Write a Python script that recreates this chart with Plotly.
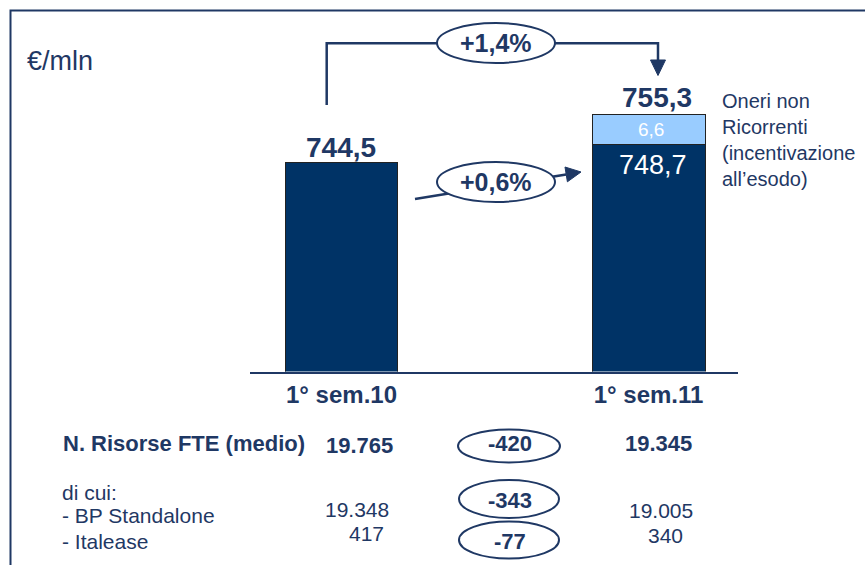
import plotly.graph_objects as go

# ---------------- data ----------------
periods = ["1° sem.10", "1° sem.11"]
recurring_costs = [744.5, 748.7]          # dark navy part
one_off_costs = [0.0, 6.6]                # light blue part (oneri non ricorrenti)
total_costs = [744.5, 755.3]
pct_change_total = "+1,4%"
pct_change_recurring = "+0,6%"
unit_label = "€/mln"
one_off_label = "Oneri non<br>Ricorrenti<br>(incentivazione<br>all’esodo)"

fte_row_labels = ["N. Risorse FTE (medio)", "di cui:", "- BP Standalone", "- Italease"]
fte_total = [19765, 19345]
fte_bp_standalone = [19348, 19005]
fte_italease = [417, 340]

# ---------------- helpers ----------------
W, H = 865, 565
NAVY = "#1F3864"
BAR = "#003366"
LIGHT = "#99CCFF"
FONT = "Tahoma, 'Liberation Sans', Arial, sans-serif"


def px(x):
    return x / W


def py(y):
    return 1 - y / H


def it_dec(v):
    return f"{v:.1f}".replace(".", ",")


def it_int(v):
    return f"{v:,}".replace(",", ".")


def it_delta(v):
    return ("+" if v > 0 else "") + it_int(v)


# axis geometry (pixels)
AXIS_Y = 371.5
PLOT_TOP = 60
PX_PER_UNIT = 4.46
Y_MIN = 697.7
Y_MAX = Y_MIN + (AXIS_Y - PLOT_TOP) / PX_PER_UNIT
X_LEFT, X_RIGHT = 250, 738
X_RANGE = [-0.298, 1.2915]

fig = go.Figure()
fig.add_trace(go.Bar(
    x=[0, 1], y=recurring_costs, width=0.368,
    marker=dict(color=BAR, line=dict(color="#222222", width=1)),
    hoverinfo="skip", showlegend=False,
))
fig.add_trace(go.Bar(
    x=[0, 1], y=one_off_costs, width=0.368,
    marker=dict(color=LIGHT, line=dict(color="#222222", width=1)),
    hoverinfo="skip", showlegend=False,
))

annotations = []


def txt(text, x, y, size, bold=False, color=NAVY, xanchor="center", **kw):
    t = f"<b>{text}</b>" if bold else text
    d = dict(text=t, x=x, y=y, xref=kw.pop("xref", "paper"), yref=kw.pop("yref", "paper"),
             xanchor=xanchor, yanchor=kw.pop("yanchor", "middle"), showarrow=False,
             font=dict(family=FONT, size=size, color=color), align=kw.pop("align", "left"))
    d.update(kw)
    annotations.append(d)


# unit label
txt(unit_label, px(25), py(61.5), 27, xanchor="left")

# value labels tied to data
txt(it_dec(total_costs[0]), 0, total_costs[0], 28, bold=True, xref="x", yref="y", yshift=15)
txt(it_dec(total_costs[1]), 1, total_costs[1], 28, bold=True, xref="x", yref="y", yshift=17.5, xshift=8)
txt(it_dec(recurring_costs[1]), 1, recurring_costs[1], 27, color="white", xref="x", yref="y",
    yshift=-20.5, xshift=4)
txt(it_dec(one_off_costs[1]), 1, recurring_costs[1] + one_off_costs[1] / 2, 19, color="white",
    xref="x", yref="y", xshift=2)

# legend-like note
txt(one_off_label, px(720), py(88), 20, xanchor="left", yanchor="top")

# percentage bubbles
txt(pct_change_total, px(496), py(43), 25, bold=True)
txt(pct_change_recurring, px(496), py(182), 25, bold=True)

# FTE table
txt(fte_row_labels[0], px(61), py(443.5), 22, bold=True, xanchor="left")
txt(fte_row_labels[1], px(60), py(492), 21, xanchor="left")
txt(fte_row_labels[2], px(60), py(515.5), 21, xanchor="left")
txt(fte_row_labels[3], px(60), py(541), 21, xanchor="left")

txt(it_int(fte_total[0]), px(359), py(445), 22, bold=True)
txt(it_int(fte_total[1]), px(658), py(443.5), 22, bold=True)
txt(it_int(fte_bp_standalone[0]), px(357), py(509), 21)
txt(it_int(fte_bp_standalone[1]), px(661), py(510.5), 21)
txt(it_int(fte_italease[0]), px(366.5), py(533), 21)
txt(it_int(fte_italease[1]), px(665.5), py(535.5), 21)

txt(it_delta(fte_total[1] - fte_total[0]), px(510), py(443.5), 22, bold=True)
txt(it_delta(fte_bp_standalone[1] - fte_bp_standalone[0]), px(510), py(500.5), 22, bold=True)
txt(it_delta(fte_italease[1] - fte_italease[0]), px(510), py(541), 22, bold=True)

# ---------------- shapes ----------------
shapes = []


def path(points, close=False, **kw):
    s = "M " + " L ".join(f"{px(x):.5f},{py(y):.5f}" for x, y in points)
    if close:
        s += " Z"
    d = dict(type="path", path=s, xref="paper", yref="paper")
    d.update(kw)
    shapes.append(d)


def ellipse(cx, cy, w, h):
    shapes.append(dict(type="circle", xref="paper", yref="paper",
                       x0=px(cx - w / 2), x1=px(cx + w / 2), y0=py(cy + h / 2), y1=py(cy - h / 2),
                       fillcolor="white", line=dict(color=NAVY, width=2)))


# frame
path([(10.5, 600), (10.5, 10.5), (900, 10.5)], line=dict(color=NAVY, width=2))

# bracket connector +1,4%
path([(326.7, 105), (326.7, 43.3), (658, 43.3), (658, 62)], line=dict(color=NAVY, width=2.5))
path([(650.5, 60), (665.5, 60), (658, 75.5)], close=True, fillcolor=NAVY, line=dict(color=NAVY, width=1))
ellipse(496, 43, 118, 40)

# arrow +0,6%
x0, y0, x1, y1 = 415, 199, 581, 172
dx, dy = x1 - x0, y1 - y0
L = (dx * dx + dy * dy) ** 0.5
ux, uy = dx / L, dy / L
hl, hw = 15, 7.5
bx, by = x1 - hl * ux, y1 - hl * uy
path([(x0, y0), (bx, by)], line=dict(color=NAVY, width=2.5))
path([(bx + hw * -uy, by + hw * ux), (bx - hw * -uy, by - hw * ux), (x1, y1)], close=True,
     fillcolor=NAVY, line=dict(color=NAVY, width=1))
ellipse(496, 182, 118, 40)

# table ellipses
ellipse(509, 446, 102, 33)
ellipse(509, 499, 100, 38)
ellipse(509, 540, 100, 37)

fig.update_layout(
    width=W, height=H,
    margin=dict(l=0, r=0, t=0, b=0),
    paper_bgcolor="white", plot_bgcolor="white",
    barmode="stack", bargap=0,
    showlegend=False, hovermode=False,
    xaxis=dict(
        domain=[px(X_LEFT), px(X_RIGHT)], range=X_RANGE,
        tickmode="array", tickvals=[0, 1], ticktext=[f"<b>{p}</b>" for p in periods],
        tickfont=dict(family=FONT, size=24, color=NAVY),
        ticks="", ticklabelstandoff=1,
        showline=True, linecolor=NAVY, linewidth=2,
        showgrid=False, zeroline=False, fixedrange=True,
    ),
    yaxis=dict(
        domain=[py(AXIS_Y), py(PLOT_TOP)], range=[Y_MIN, Y_MAX],
        visible=False, showgrid=False, zeroline=False, fixedrange=True,
    ),
    annotations=annotations,
    shapes=shapes,
)

fig.write_html(
    "out.html",
    config={"displayModeBar": False, "staticPlot": True},
    post_script="document.body.style.margin='0';document.body.style.padding='0';"
                "document.body.style.overflow='hidden';",
)
